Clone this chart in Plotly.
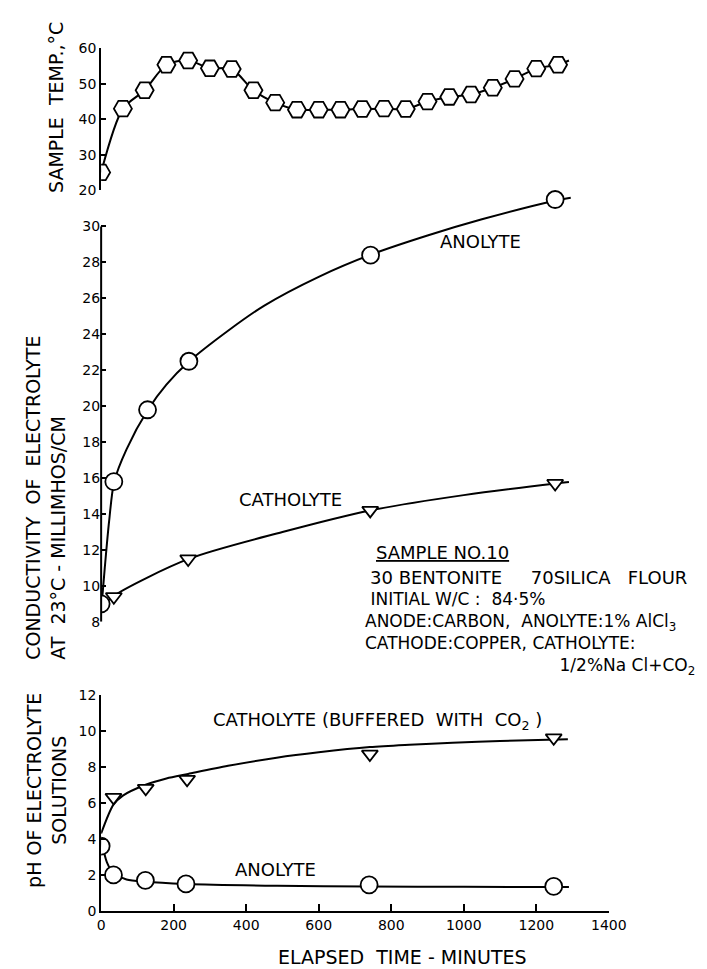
import plotly.graph_objects as go

# ---- data ----
# sample temperature (hexagons), every hour
temp_time = [0, 60, 120, 180, 240, 300, 360, 420, 480, 540, 600, 660,
             720, 780, 840, 900, 960, 1020, 1080, 1140, 1200, 1260]
temp_c = [25.0, 43.0, 48.2, 55.4, 56.6, 54.4, 54.2, 48.2, 44.7, 42.7, 42.7, 42.7,
          42.9, 43.0, 42.9, 45.0, 46.3, 47.0, 48.9, 51.4, 54.3, 55.4]
temp_curve_time = temp_time + [1290]
temp_curve_c = temp_c + [56.6]

# conductivity, millimhos/cm at 23 C
anolyte_cond_time = [0, 35, 128, 242, 743, 1252]
anolyte_cond = [9.0, 15.8, 19.8, 22.5, 28.4, 31.5]
catholyte_cond_time = [35, 240, 742, 1252]
catholyte_cond = [9.4, 11.5, 14.2, 15.7]

anolyte_cond_curve_time = [0, 10, 22, 36, 70, 129, 180, 243, 350, 450, 600, 746, 900, 1050, 1254, 1295]
anolyte_cond_curve = [8.6, 11.0, 13.6, 15.8, 17.6, 19.8, 21.2, 22.5, 24.2, 25.6, 27.2, 28.45, 29.5, 30.4, 31.45, 31.6]
catholyte_cond_curve_time = [0, 35, 241, 500, 742, 1000, 1254, 1290]
catholyte_cond_curve = [8.8, 9.45, 11.5, 13.0, 14.2, 15.05, 15.7, 15.78]

# pH of electrolyte solutions
catholyte_ph_time = [34, 123, 237, 741, 1248]
catholyte_ph = [6.3, 6.8, 7.3, 8.7, 9.6]
anolyte_ph_time = [0, 34, 122, 234, 739, 1248]
anolyte_ph = [3.6, 2.0, 1.7, 1.5, 1.45, 1.36]

catholyte_ph_curve_time = [0, 34, 60, 123, 180, 240, 350, 484, 600, 741, 850, 969, 1100, 1287]
catholyte_ph_curve = [4.3, 5.9, 6.4, 7.0, 7.35, 7.6, 8.05, 8.5, 8.8, 9.09, 9.22, 9.33, 9.43, 9.52]
anolyte_ph_curve_time = [0, 16, 34, 70, 122, 234, 485, 739, 1000, 1290]
anolyte_ph_curve = [4.0, 2.7, 2.1, 1.75, 1.62, 1.5, 1.4, 1.36, 1.34, 1.33]

x_ticks = [0, 200, 400, 600, 800, 1000, 1200, 1400]
temp_ticks = [20, 30, 40, 50, 60]
cond_ticks = [8, 10, 12, 14, 16, 18, 20, 22, 24, 26, 28, 30]
ph_ticks = [0, 2, 4, 6, 8, 10, 12]

# ---- page geometry (pixels of the 707 x 969 page) ----
W, H = 707, 969
FONT = "DejaVu Sans"
INK = "black"


def px(x):
    return x / W


def py(y):
    return 1 - y / H


def curve(x, y, yaxis):
    return go.Scatter(x=x, y=y, xaxis="x", yaxis=yaxis, mode="lines",
                      line=dict(color=INK, width=2, shape="spline", smoothing=0.8),
                      hoverinfo="skip", showlegend=False)


def points(x, y, yaxis, symbol, size):
    return go.Scatter(x=x, y=y, xaxis="x", yaxis=yaxis, mode="markers",
                      marker=dict(symbol=symbol, size=size, color="white",
                                  line=dict(color=INK, width=1.8)),
                      showlegend=False)


fig = go.Figure()
fig.add_trace(curve(temp_curve_time, temp_curve_c, "y"))
fig.add_trace(points(temp_time, temp_c, "y", "hexagon2", 18))

fig.add_trace(curve(anolyte_cond_curve_time, anolyte_cond_curve, "y2"))
fig.add_trace(curve(catholyte_cond_curve_time, catholyte_cond_curve, "y2"))
fig.add_trace(points(anolyte_cond_time, anolyte_cond, "y2", "circle", 17))
fig.add_trace(points(catholyte_cond_time, catholyte_cond, "y2", "triangle-down", 14))

fig.add_trace(curve(catholyte_ph_curve_time, catholyte_ph_curve, "y3"))
fig.add_trace(curve(anolyte_ph_curve_time, anolyte_ph_curve, "y3"))
fig.add_trace(points(catholyte_ph_time, catholyte_ph, "y3", "triangle-down", 14))
fig.add_trace(points(anolyte_ph_time, anolyte_ph, "y3", "circle", 17))

axis_common = dict(showgrid=False, zeroline=False, showline=True, linecolor=INK,
                   linewidth=2, ticks="inside", ticklen=5, tickwidth=2, tickcolor=INK,
                   tickfont=dict(family=FONT, size=14, color=INK), fixedrange=True)

# conductivity scale: 8 -> 616 px, 30 -> 214 px; domain runs up to 176 px
cond_top = 8 + (616 - 176) * 22 / (616 - 214)

fig.update_layout(
    width=W, height=H,
    margin=dict(l=0, r=0, t=0, b=0),
    plot_bgcolor="white", paper_bgcolor="white",
    font=dict(family=FONT, color=INK),
    xaxis=dict(axis_common, domain=[px(92), px(616)], range=[0, 1400],
               tickvals=x_ticks, anchor="y3", ticklen=7),
    yaxis=dict(axis_common, domain=[py(177), py(33)], range=[20, 60],
               tickvals=temp_ticks, anchor="x"),
    yaxis2=dict(axis_common, domain=[py(616), py(176)], range=[8, cond_top],
                tickvals=cond_ticks, anchor="x", showline=False),
    yaxis3=dict(axis_common, domain=[py(910), py(690)], range=[0, 12],
                tickvals=ph_ticks, anchor="x"),
)

# conductivity axis line only spans the labelled part
fig.add_shape(type="line", xref="paper", yref="y2", x0=px(92), x1=px(92),
              y0=8, y1=30, line=dict(color=INK, width=2))


def label(x, y, text, size=18, xanchor="left", angle=0, align="left"):
    fig.add_annotation(xref="paper", yref="paper", x=px(x), y=py(y), text=text,
                       showarrow=False, xanchor=xanchor, yanchor="middle",
                       textangle=angle, align=align,
                       font=dict(family=FONT, size=size, color=INK))


# axis titles
label(46, 93, "SAMPLE  TEMP.,°C", size=19, xanchor="center", angle=-90)
label(35, 490, "CONDUCTIVITY  OF  ELECTROLYTE<br>AT  23°C - MILLIMHOS/CM",
      size=19, xanchor="center", angle=-90)
label(35, 787, "pH OF ELECTROLYTE<br>SOLUTIONS", size=19, xanchor="center",
      angle=-90, align="center")
label(403, 957, "ELAPSED  TIME - MINUTES", size=19, xanchor="center")

# curve labels
label(440, 229, "ANOLYTE")
label(232, 492, "CATHOLYTE")
label(205, 717, "CATHOLYTE (BUFFERED  WITH  CO<sub>2</sub> )")
label(228, 868, "ANOLYTE")

# sample description
label(374, 546, "<u>SAMPLE NO.10</u>")
label(367, 571, "30 BENTONITE     70SILICA   FLOUR")
sample_lines = [
    " INITIAL W/C :  84·5%",
    "ANODE:CARBON,  ANOLYTE:1% AlCl<sub>3</sub>",
    "CATHODE:COPPER, CATHOLYTE:",
    " " * 36 + "1/2%Na Cl+CO<sub>2</sub>",
]
label(362, 628, "<br>".join(sample_lines), size=17)

fig.write_html("out.html")
